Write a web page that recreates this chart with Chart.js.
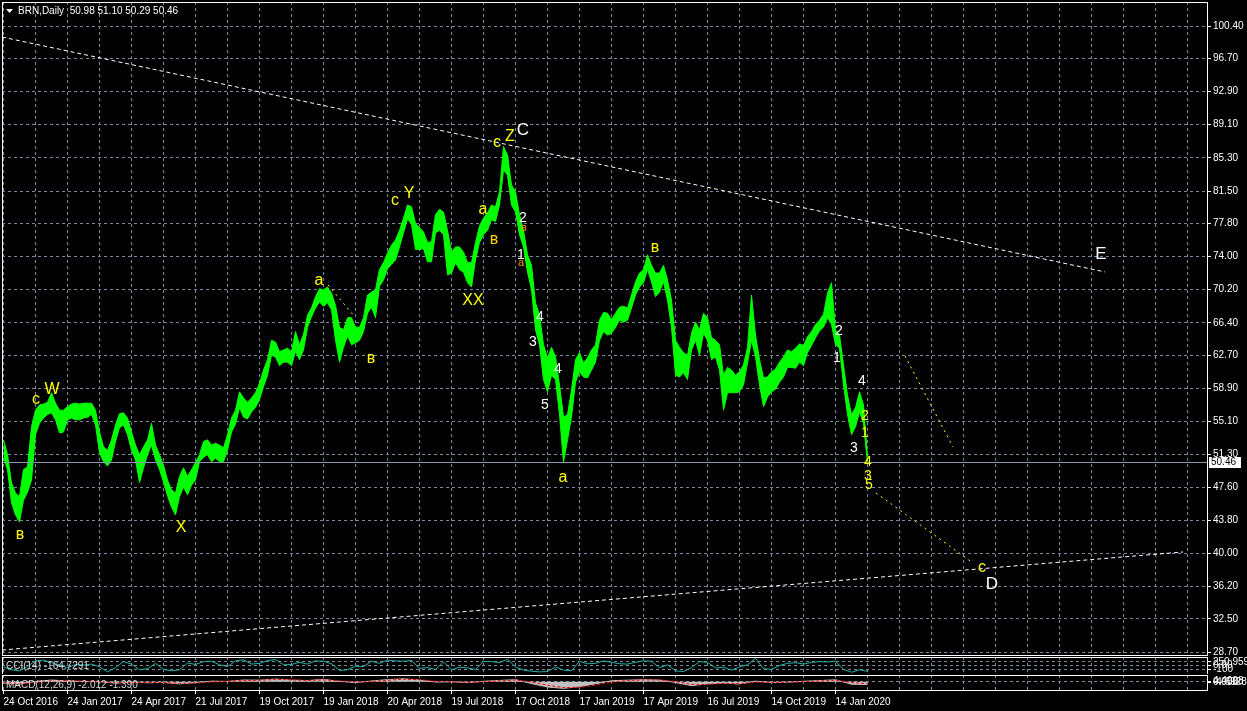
<!DOCTYPE html>
<html>
<head>
<meta charset="utf-8">
<script src="https://cdn.jsdelivr.net/npm/chart.js@4.4.1/dist/chart.umd.min.js"></script>
<style>
  html, body { margin: 0; padding: 0; background: #000; overflow: hidden; }
  canvas { position: absolute; left: 0; }
</style>
</head>
<body>
<canvas id="main" width="1247" height="656" style="top:0"></canvas>
<canvas id="cci" width="1247" height="18" style="top:656px"></canvas>
<canvas id="macd" width="1247" height="37" style="top:674px"></canvas>
<script>
// ---- data (bar index = trading days from 24 Oct 2016) ----
const sampleStep = 4; // bars between price samples
const highs = [
  53.0, 51.3, 48.1, 46.9, 46.5, 49.6, 49.9, 54.5, 56.4, 57.0, 57.1, 57.3, 58.4, 57.2, 56.4, 56.4,
  56.8, 57.1, 57.2, 57.1, 57.2, 57.2, 57.2, 56.4, 53.9, 52.2, 51.8, 53.0, 54.7, 56.0, 56.1, 55.5,
  53.9, 52.4, 51.3, 52.2, 53.0, 54.9, 52.4, 51.3, 50.1, 48.4, 47.3, 46.9, 48.8, 49.8, 48.8, 49.6,
  50.4, 51.3, 52.8, 53.0, 52.4, 52.6, 52.4, 52.1, 53.6, 55.5, 56.4, 58.5, 57.8, 57.3, 57.8, 58.4,
  59.5, 61.0, 62.2, 64.4, 64.2, 63.1, 63.3, 63.5, 63.1, 65.4, 63.9, 65.1, 67.3, 68.1, 69.4, 70.3,
  70.2, 70.5, 69.8, 68.4, 65.9, 65.6, 67.0, 67.0, 65.9, 65.9, 67.0, 69.6, 69.9, 70.2, 72.5, 73.3,
  74.4, 75.3, 75.9, 77.0, 78.4, 79.9, 79.7, 77.8, 77.3, 76.8, 75.6, 75.7, 78.8, 79.4, 79.1, 77.0,
  74.5, 75.1, 75.1, 74.5, 73.3, 73.3, 75.6, 77.5, 78.4, 79.0, 79.9, 79.7, 81.4, 86.6, 85.6, 82.2,
  81.4, 78.8, 77.0, 74.2, 73.0, 68.7, 67.3, 63.9, 62.4, 63.6, 62.5, 59.3, 55.6, 55.9, 58.7, 62.2,
  63.0, 61.8, 62.4, 63.3, 63.9, 66.7, 67.6, 67.5, 66.8, 67.5, 68.2, 68.3, 68.1, 69.6, 71.1, 72.1,
  72.5, 74.2, 73.0, 72.1, 72.1, 73.0, 71.3, 69.0, 64.4, 63.6, 63.0, 62.7, 65.2, 66.5, 65.6, 67.5,
  67.0, 64.7, 64.4, 63.9, 60.4, 61.3, 61.0, 60.4, 60.8, 61.6, 63.6, 69.6, 65.0, 62.2, 60.1, 60.2,
  60.8, 61.1, 61.9, 62.5, 63.3, 63.1, 63.5, 64.0, 63.8, 64.8, 65.4, 66.2, 66.7, 67.4, 69.8, 71.0,
  65.6, 65.0, 61.6, 58.1, 55.9, 56.7, 58.5, 57.0, 51.1
];
const lows = [
  50.9, 49.6, 45.8, 44.4, 43.6, 46.1, 47.0, 48.4, 53.6, 54.9, 55.5, 55.9, 56.1, 55.3, 53.8, 53.9,
  55.3, 55.5, 55.3, 55.3, 55.5, 55.6, 55.9, 54.7, 51.5, 50.5, 50.0, 50.7, 52.8, 54.4, 54.7, 53.6,
  51.8, 50.7, 48.1, 49.8, 51.3, 52.4, 50.7, 49.6, 48.2, 46.6, 45.3, 44.4, 46.5, 47.6, 46.7, 47.8,
  48.4, 50.5, 51.0, 51.3, 50.5, 50.9, 50.5, 50.5, 51.8, 53.9, 54.8, 56.7, 55.6, 55.4, 56.2, 56.7,
  57.6, 59.1, 60.4, 62.7, 62.5, 61.5, 61.9, 61.9, 61.5, 63.1, 62.2, 63.3, 65.9, 67.1, 68.1, 68.8,
  68.3, 68.7, 67.9, 64.4, 61.9, 63.6, 64.9, 63.9, 64.1, 64.4, 65.4, 67.5, 68.2, 67.0, 70.6, 71.3,
  72.6, 73.1, 73.6, 75.1, 76.7, 78.3, 77.7, 74.8, 74.8, 74.9, 73.4, 73.4, 76.7, 77.0, 76.5, 71.9,
  72.1, 73.3, 72.5, 72.2, 71.0, 70.5, 73.6, 75.6, 76.5, 77.0, 78.2, 78.0, 79.9, 83.9, 83.3, 79.9,
  79.1, 76.5, 75.1, 72.2, 70.2, 65.6, 63.9, 59.9, 58.5, 60.4, 59.9, 55.9, 50.4, 53.0, 55.6, 59.6,
  60.8, 60.2, 60.1, 61.0, 61.9, 64.4, 65.4, 65.0, 65.2, 65.9, 66.7, 66.5, 66.7, 68.1, 69.6, 70.5,
  71.0, 72.5, 71.1, 69.4, 69.9, 71.1, 69.0, 65.9, 60.4, 60.2, 60.7, 59.9, 63.3, 64.4, 62.7, 65.2,
  64.4, 62.2, 62.5, 61.0, 56.4, 58.4, 58.4, 58.4, 58.5, 59.3, 61.8, 64.4, 62.5, 59.3, 56.8, 57.9,
  58.5, 58.8, 59.6, 60.2, 61.3, 61.3, 61.2, 61.9, 61.5, 63.0, 63.8, 64.7, 65.5, 65.9, 67.0, 66.2,
  63.9, 63.5, 59.3, 55.9, 53.6, 54.5, 56.2, 54.9, 50.3
];
const lastClose = 50.46;

const cciStep = 8;
const cciValues = [
  -40, -120, -150, -30, 140, 150, 80, 20, -60, 30, 10, 40, -40, -180, -60, 110,
  40, -120, -90, 60, -110, -150, -120, 70, 30, 110, 120, 20, -30, 130, 160, 40,
  60, 140, 170, 20, 30, 90, 40, 130, 120, 50, -140, -120, -20, -30, 120, 60,
  150, 130, 120, 140, -80, -60, -110, 100, -120, -50, -70, -110, 120, 110, 80, 180,
  -40, -130, -160, -180, -170, -40, -130, -150, 120, 50, 60, 130, 90, 50, 40, 90,
  130, 120, -60, 20, -150, -170, -60, 110, 90, -70, -50, -130, -40, 20, 200, -90,
  -110, 0, 60, 80, 40, 90, 110, 100, 120, -110, -190, -120, -164.7
];

const macdStep = 16;
const macdMain = [
  -0.8, -1.6, 0.2, 1.3, 0.6, 0.3, 0.1, -1.0, -0.2, -0.7, -0.5, -1.5, -0.6, 0.5, 0.3, 1.3,
  1.2, 2.0, 1.2, 0.9, 1.8, 0.3, -0.5, 0.6, 1.6, 2.2, 1.3, -0.2, 0.0, -0.6, 0.4, 1.0,
  1.6, -1.3, -3.8, -4.8, -3.5, -1.5, 0.8, 1.2, 1.6, 1.3, -0.5, -2.8, -1.5, -0.9, -1.6, 0.5,
  -0.6, -0.3, 0.4, 0.9, 1.5, -1.8, -2.012
];
const macdSignal = [
  -0.4, -1.2, -0.6, 0.7, 0.9, 0.5, 0.2, -0.6, -0.5, -0.5, -0.5, -1.1, -0.9, -0.1, 0.3, 0.9,
  1.2, 1.7, 1.5, 1.0, 1.4, 0.8, -0.1, 0.1, 1.1, 1.9, 1.6, 0.4, 0.0, -0.4, 0.0, 0.7,
  1.3, -0.1, -2.5, -4.2, -4.0, -2.4, -0.2, 0.9, 1.4, 1.4, 0.3, -1.9, -1.9, -1.1, -1.4, -0.3,
  -0.4, -0.4, 0.1, 0.6, 1.2, -0.6, -1.390
];

const dateLabels = ['24 Oct 2016', '24 Jan 2017', '24 Apr 2017', '21 Jul 2017', '19 Oct 2017',
  '19 Jan 2018', '20 Apr 2018', '19 Jul 2018', '17 Oct 2018', '17 Jan 2019', '17 Apr 2019',
  '16 Jul 2019', '14 Oct 2019', '14 Jan 2020'];
const priceTicks = [100.40, 96.70, 92.90, 89.10, 85.30, 81.50, 77.80, 74.00, 70.20, 66.40,
  62.70, 58.90, 55.10, 51.30, 47.60, 43.80, 40.00, 36.20, 32.50, 28.70];
const cciTicks = [100, 0, -100];
const cciTickText = ['250.9598', '0.00', '-100'];
const macdTicks = [0.5, 0, -0.5];
const macdTickText = ['4.4998', '0.000', '-4.6928'];

// wave marks: [text, bar, price, kind]
const waveLabels = [
  ['c', 32.5, 57.6, 'y'], ['W', 48.5, 58.8, 'y'], ['в', 16.5, 42.2, 'y'], ['X', 177.5, 43.0, 'y'],
  ['a', 315.5, 71.2, 'y'], ['в', 367.5, 62.3, 'y'], ['c', 391.5, 80.4, 'y'], ['Y', 405.5, 81.2, 'y'],
  ['XX', 469.5, 69.0, 'y'], ['a', 479.5, 79.4, 'y'], ['в', 490.5, 75.9, 'g'], ['c', 493.5, 87.1, 'y'],
  ['Z', 506.5, 87.7, 'y'], ['C', 519.5, 88.4, 'w'],
  ['2', 519.5, 78.4, 'wd'], ['в', 520.5, 77.3, 'o'], ['1', 517.5, 74.1, 'wd'], ['a', 517.5, 73.3, 'o'],
  ['4', 536.5, 67.1, 'wd'], ['3', 529.5, 64.2, 'wd'], ['4', 554.5, 61.1, 'wd'], ['5', 541.5, 57.0, 'wd'],
  ['a', 559.5, 48.7, 'y'], ['в', 651.5, 75.0, 'y'],
  ['2', 835.5, 65.5, 'wd'], ['1', 833.5, 62.4, 'wd'], ['4', 858.5, 59.7, 'wd'], ['2', 861.5, 55.7, 'yd'],
  ['1', 861.5, 53.8, 'yd'], ['3', 850.5, 52.1, 'wd'], ['4', 864.5, 50.5, 'yd'], ['3', 864.5, 48.9, 'yd'],
  ['5', 865.5, 47.8, 'yd'],
  ['c', 978.5, 38.4, 'y'], ['D', 988.5, 36.5, 'w'], ['E', 1097.5, 74.2, 'w']
];
// trend lines: [bar1, price1, bar2, price2, kind]
const trendLines = [
  [-1.5, 99.14, 1101.5, 72.23, 'white'],
  [-1.5, 28.93, 1179.5, 40.16, 'white'],
  [324.5, 70.74, 351.5, 67.07, 'yellow'],
  [901.5, 62.61, 949.5, 52.19, 'yellow'],
  [872.5, 46.92, 969.5, 38.90, 'yellow']
];

// ---- styles ----
const GRID = '#778899';
const LIME = '#00ff00';
const AXIS_FAMILY = "'Liberation Sans', Arial, sans-serif";
const AXIS_FONT = { family: AXIS_FAMILY, size: 10 };
const labelStyle = {
  y: { color: '#ffff00', size: 16 },
  w: { color: '#ffffff', size: 17 },
  g: { color: '#ffd400', size: 16 },
  o: { color: '#ff9a00', size: 11 },
  yd: { color: '#ffff00', size: 14 },
  wd: { color: '#ffffff', size: 14 }
};
const lineStyle = {
  white: { color: '#ffffff', dash: [4, 3] },
  yellow: { color: '#ffff00', dash: [2, 4] }
};
const gridBars = [];
for (let b = 0; b <= 1184; b += 32) gridBars.push(b);

function noPad(s) {
  s.paddingTop = 0; s.paddingBottom = 0; s.paddingLeft = 0; s.paddingRight = 0;
}

function xScale(withLabels) {
  return {
    type: 'linear', min: -1.5, max: 1203.5,
    afterBuildTicks: s => { s.ticks = gridBars.map(v => ({ value: v })); },
    afterFit: s => { s.height = withLabels ? 21 : 0; noPad(s); },
    grid: {
      color: GRID, drawTicks: withLabels, tickLength: 4, tickBorderDash: [],
      tickColor: c => (c.tick && c.tick.value % 64 === 0 && c.tick.value / 64 < dateLabels.length) ? '#ffffff' : 'rgba(0,0,0,0)'
    },
    border: { display: false, dash: [3, 3] },
    ticks: {
      display: withLabels, autoSkip: false, maxRotation: 0, align: 'start', padding: 2,
      color: '#ffffff', font: AXIS_FONT,
      callback: v => (v % 64 === 0 && v / 64 < dateLabels.length) ? dateLabels[v / 64] : ''
    }
  };
}

function yScale(min, max, ticks, text, gridColor) {
  return {
    position: 'right', min: min, max: max,
    afterBuildTicks: s => { s.ticks = ticks.map(v => ({ value: v })); },
    afterFit: s => { s.width = 40; noPad(s); },
    grid: { color: gridColor || GRID, tickLength: 4, tickColor: '#ffffff', tickBorderDash: [] },
    border: { display: false, dash: [3, 3] },
    ticks: { autoSkip: false, padding: 2, color: '#ffffff', font: AXIS_FONT, callback: text }
  };
}

function frame(chart) {
  const a = chart.chartArea, ctx = chart.ctx;
  ctx.save();
  ctx.strokeStyle = '#ffffff';
  ctx.lineWidth = 1;
  ctx.strokeRect(a.left + 0.5, a.top + 0.5, a.right - a.left, a.bottom - a.top);
  ctx.restore();
}

function caption(chart, text, y) {
  const ctx = chart.ctx;
  ctx.save();
  ctx.font = '10px ' + AXIS_FAMILY;
  ctx.fillStyle = '#d8d8d8';
  ctx.textBaseline = 'middle';
  ctx.fillText(text, 6, y);
  ctx.restore();
}

const mainPlugin = {
  id: 'mainOverlay',
  afterDatasetsDraw(chart) {
    const { ctx, chartArea: a } = chart;
    const x = chart.scales.x, y = chart.scales.y;
    ctx.save();
    // current price line
    const py = Math.round(y.getPixelForValue(lastClose)) + 0.5;
    ctx.strokeStyle = '#8a9aac';
    ctx.lineWidth = 1;
    ctx.beginPath(); ctx.moveTo(a.left, py); ctx.lineTo(a.right, py); ctx.stroke();
    // trend lines
    trendLines.forEach(([b1, p1, b2, p2, kind]) => {
      const st = lineStyle[kind];
      ctx.strokeStyle = st.color;
      ctx.setLineDash(st.dash);
      ctx.beginPath();
      ctx.moveTo(x.getPixelForValue(b1), y.getPixelForValue(p1));
      ctx.lineTo(x.getPixelForValue(b2), y.getPixelForValue(p2));
      ctx.stroke();
    });
    ctx.setLineDash([]);
    // wave marks
    ctx.textAlign = 'center';
    ctx.textBaseline = 'middle';
    waveLabels.forEach(([t, bar, price, kind]) => {
      const st = labelStyle[kind];
      ctx.font = st.size + 'px "Liberation Sans", Arial, sans-serif';
      ctx.fillStyle = st.color;
      ctx.fillText(t, x.getPixelForValue(bar), y.getPixelForValue(price));
    });
    ctx.restore();
  },
  afterDraw(chart) {
    const ctx = chart.ctx, y = chart.scales.y;
    frame(chart);
    ctx.save();
    // header
    ctx.fillStyle = '#ffffff';
    ctx.beginPath(); ctx.moveTo(6, 9); ctx.lineTo(13, 9); ctx.lineTo(9.5, 13); ctx.closePath(); ctx.fill();
    ctx.font = '10px ' + AXIS_FAMILY;
    ctx.textBaseline = 'middle';
    ctx.fillText('BRN,Daily  50.98 51.10 50.29 50.46', 18, 11);
    // last price box
    const py = Math.round(y.getPixelForValue(lastClose));
    ctx.fillStyle = '#ffffff';
    ctx.fillRect(1209, py - 5, 32, 11);
    ctx.fillStyle = '#000000';
    ctx.fillText(lastClose.toFixed(2), 1211, py + 0.5);
    ctx.restore();
  }
};

const common = {
  responsive: false, animation: false, events: [],
  plugins: { legend: { display: false }, tooltip: { enabled: false } }
};

const highPts = highs.map((v, i) => ({ x: i * sampleStep, y: v }));
const lowPts = lows.map((v, i) => ({ x: i * sampleStep, y: v }));

new Chart(document.getElementById('main'), {
  type: 'line',
  data: {
    datasets: [
      { data: highPts, borderColor: LIME, borderWidth: 1, pointRadius: 0, fill: false },
      { data: lowPts, borderColor: LIME, borderWidth: 1, pointRadius: 0, fill: '-1', backgroundColor: LIME }
    ]
  },
  options: Object.assign({}, common, {
    layout: { padding: { left: 2, top: 2, right: 0, bottom: 1 } },
    scales: {
      x: xScale(false),
      y: yScale(28.36, 103.15, priceTicks, v => v.toFixed(2))
    }
  }),
  plugins: [mainPlugin]
});

new Chart(document.getElementById('cci'), {
  type: 'line',
  data: {
    datasets: [{
      data: cciValues.map((v, i) => ({ x: i * cciStep, y: v })),
      borderColor: '#20b2aa', borderWidth: 1, pointRadius: 0
    }]
  },
  options: Object.assign({}, common, {
    layout: { padding: { left: 2, top: 1, right: 0, bottom: 0 } },
    scales: {
      x: xScale(false),
      y: yScale(-240, 240, cciTicks, (v, i) => cciTickText[i])
    }
  }),
  plugins: [{
    id: 'cciOverlay',
    afterDraw(chart) { frame(chart); caption(chart, 'CCI(14) -164.7291', 10); }
  }]
});

new Chart(document.getElementById('macd'), {
  type: 'line',
  data: {
    datasets: [
      {
        data: macdSignal.map((v, i) => ({ x: i * macdStep, y: v })),
        borderColor: '#ff0000', borderWidth: 1, borderDash: [3, 2], pointRadius: 0
      },
      {
        data: macdMain.map((v, i) => ({ x: i * macdStep, y: v })),
        borderColor: '#c0c0c0', borderWidth: 1, pointRadius: 0,
        fill: 'origin', backgroundColor: '#c0c0c0'
      }
    ]
  },
  options: Object.assign({}, common, {
    layout: { padding: { left: 2, top: 1, right: 0, bottom: 0 } },
    scales: {
      x: xScale(true),
      y: yScale(-6, 5, macdTicks, (v, i) => macdTickText[i],
        c => (c.tick && c.tick.value === 0) ? GRID : 'rgba(0,0,0,0)')
    }
  }),
  plugins: [{
    id: 'macdOverlay',
    afterDraw(chart) { frame(chart); caption(chart, 'MACD(12,26,9) -2.012 -1.390', 11); }
  }]
});
</script>
</body>
</html>
